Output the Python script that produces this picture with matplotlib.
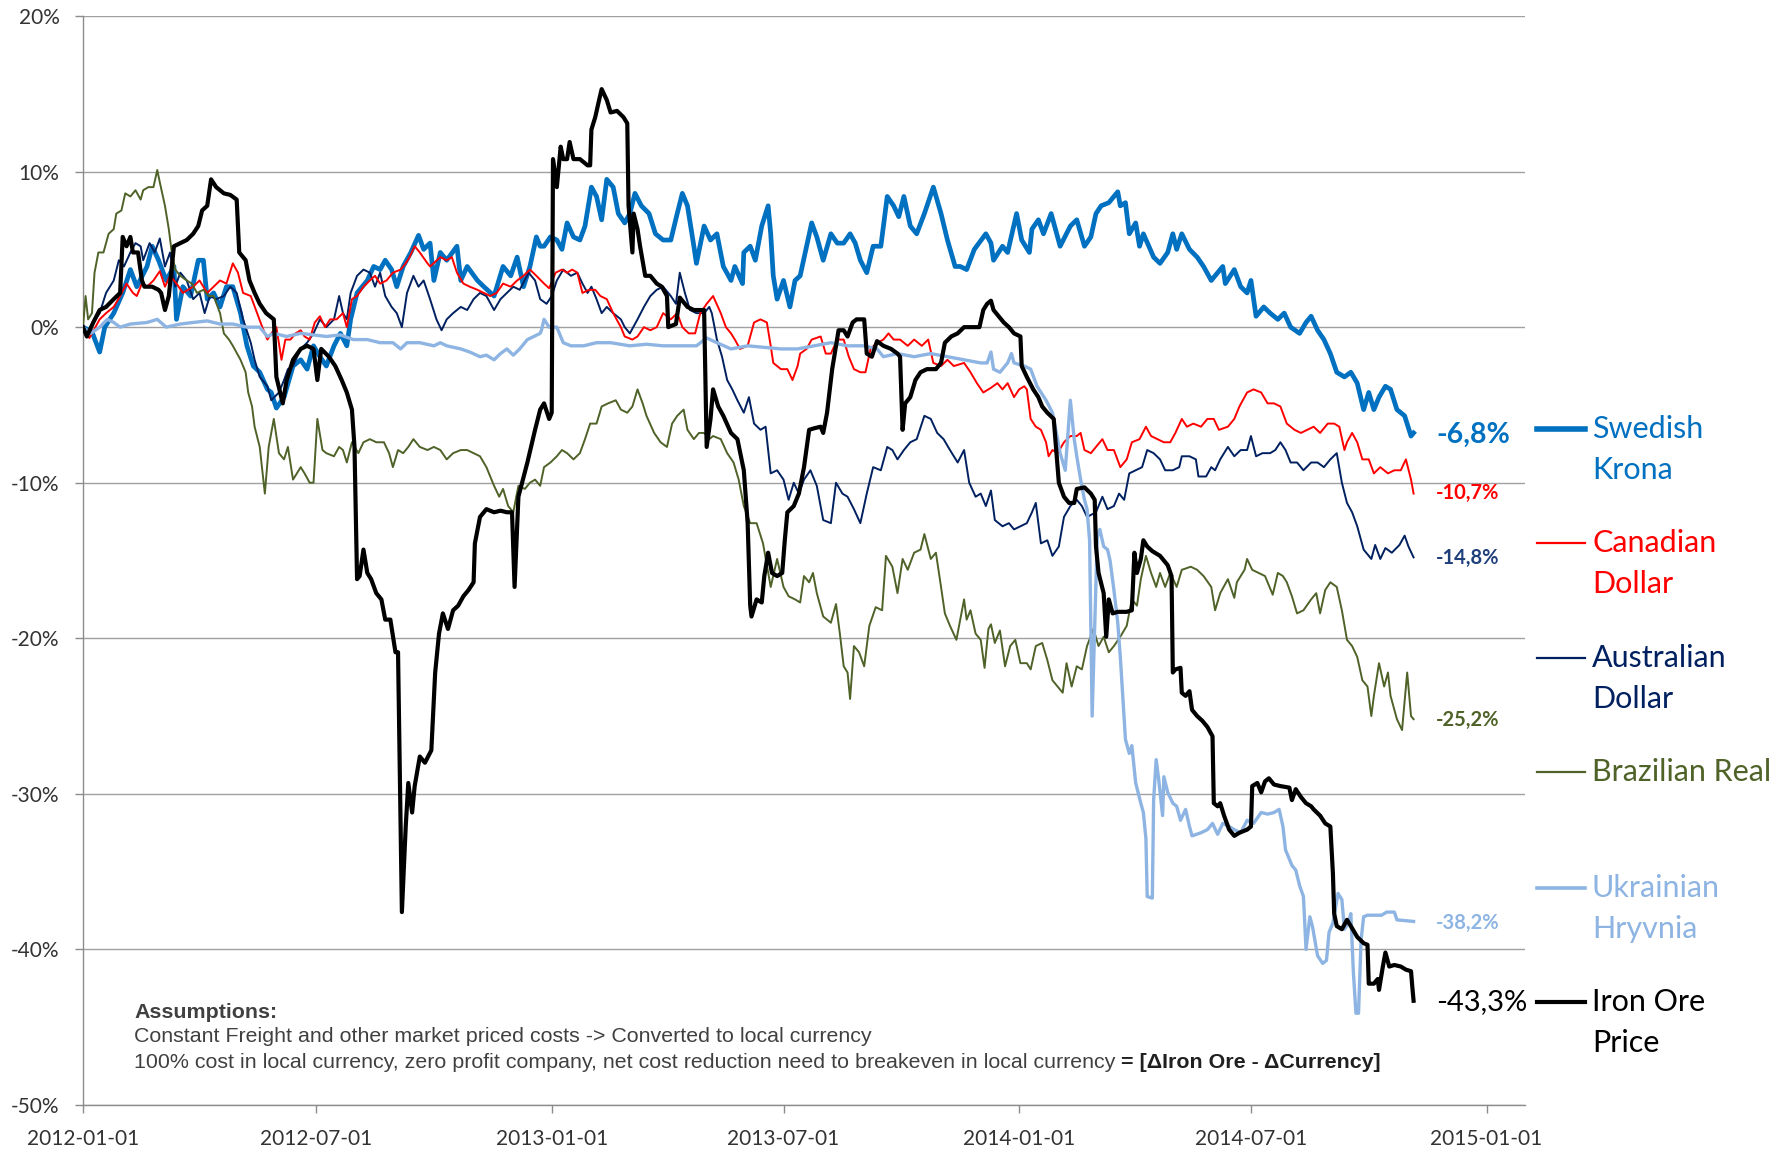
import matplotlib
matplotlib.use("Agg")
import matplotlib.pyplot as plt
import matplotlib.dates as mdates
from matplotlib.lines import Line2D
from matplotlib.ticker import FuncFormatter, MultipleLocator
import pandas as pd

plt.rcParams['font.family'] = ['Lato', 'DejaVu Sans']
plt.rcParams['axes.unicode_minus'] = False

START = pd.Timestamp("2012-01-01")

# (days since 2012-01-01, change vs start in %)
sek = [(0,0.0),(7,-0.3),(13,-1.6),(17,0.0),(24,0.9),(31,2.2),(37,3.7),(42,2.6),(50,3.9),(54,5.2),(59,4.3),(65,3.0),(71,3.9),(73,0.5),(78,2.6),(84,2.0),(90,4.3),(94,4.3),(97,1.8),(102,2.2),(107,1.3),(112,2.6),(117,2.6),(123,0.9),(128,-1.2),(133,-2.5),(138,-2.9),(144,-4.0),(147,-4.2),(151,-5.2),(157,-4.5),(164,-2.5),(170,-2.1),(175,-2.7),(180,-1.2),(185,-1.9),(190,-2.5),(196,-1.2),(201,-0.4),(206,-1.2),(209,0.5),(214,2.2),(222,3.0),(227,3.9),(232,3.7),(236,4.3),(241,3.7),(245,2.6),(250,3.9),(256,4.8),(262,5.9),(266,5.0),(271,5.4),(274,3.0),(279,4.8),(284,4.3),(292,5.2),(295,3.0),(300,3.9),(308,3.0),(313,2.6),(321,2.0),(328,3.9),(334,3.3),(339,4.5),(344,2.6),(349,3.9),(354,5.8),(357,5.2),(360,5.2),(365,5.8),(370,5.6),(374,5.0),(378,6.7),(383,5.8),(388,5.6),(392,6.5),(397,9.0),(401,8.4),(405,6.9),(409,9.5),(414,9.0),(418,7.3),(423,6.7),(427,7.3),(431,8.6),(436,7.8),(442,7.3),(447,6.0),(453,5.6),(459,5.6),(464,7.3),(468,8.6),(472,7.8),(477,5.2),(479,4.1),(485,6.5),(490,5.6),(495,6.0),(500,3.9),(506,3.0),(509,3.9),(515,2.8),(516,4.8),(521,5.2),(525,4.3),(530,6.5),(535,7.8),(537,6.0),(539,3.3),(542,1.8),(547,3.0),(552,1.3),(556,3.0),(560,3.3),(565,5.2),(569,6.7),(573,5.8),(578,4.3),(584,6.0),(589,5.4),(594,5.4),(599,6.0),(603,5.4),(607,4.3),(612,3.5),(617,5.2),(623,5.2),(628,8.4),(633,7.8),(637,7.1),(641,8.4),(646,6.5),(651,6.0),(657,7.3),(664,9.0),(670,7.3),(675,5.6),(681,3.9),(685,3.9),(690,3.7),(696,5.0),(705,6.0),(709,5.4),(711,4.3),(718,5.2),(722,4.8),(729,7.3),(733,5.6),(739,4.8),(741,6.3),(746,6.9),(750,6.0),(756,7.3),(763,5.2),(771,6.5),(776,6.9),(782,5.2),(787,5.8),(791,7.3),(795,7.8),(801,8.0),(808,8.7),(810,7.8),(814,8.0),(817,6.0),(822,6.7),(825,5.2),(828,6.0),(836,4.5),(841,4.1),(847,4.8),(851,6.0),(854,5.0),(858,6.0),(864,5.0),(870,4.5),(875,3.9),(881,3.0),(886,3.5),(890,3.9),(892,2.8),(899,3.7),(904,2.6),(909,2.2),(912,3.0),(916,0.7),(922,1.3),(927,0.9),(933,0.5),(938,0.9),(943,0.0),(950,-0.4),(955,0.3),(959,0.7),(964,-0.2),(969,-0.8),(974,-1.7),(979,-2.9),(985,-3.2),(990,-2.9),(995,-3.6),(1000,-5.3),(1004,-4.2),(1008,-5.3),(1012,-4.5),(1017,-3.8),(1021,-4.0),(1026,-5.3),(1032,-5.7),(1037,-7.0),(1039,-6.8)]

cad = [(0,0.0),(5,-0.7),(13,0.5),(18,0.9),(24,1.3),(29,2.0),(34,2.8),(39,2.2),(42,2.0),(46,2.8),(50,2.6),(55,3.0),(60,3.6),(64,2.6),(68,3.3),(73,2.8),(78,2.2),(86,2.6),(91,3.0),(97,2.2),(102,2.6),(107,3.0),(112,2.8),(117,4.1),(121,3.5),(125,2.2),(131,2.0),(136,0.9),(140,0.0),(144,-0.8),(147,-0.4),(151,0.0),(155,-2.1),(158,-0.8),(162,-0.8),(166,-0.4),(170,-0.2),(173,-0.6),(177,-0.8),(181,0.3),(185,0.7),(189,0.0),(193,0.5),(198,0.5),(203,0.9),(206,0.0),(210,1.8),(214,2.0),(219,2.6),(224,3.0),(228,3.3),(232,2.8),(237,3.0),(242,3.5),(248,3.7),(252,4.1),(255,4.5),(259,5.2),(263,4.8),(269,4.1),(271,3.9),(279,4.5),(284,4.3),(288,4.5),(292,3.5),(297,2.8),(302,2.6),(308,2.4),(313,2.2),(318,2.0),(323,2.2),(328,2.8),(334,2.6),(339,3.0),(344,3.3),(349,3.7),(354,3.3),(360,2.8),(364,2.5),(369,3.5),(374,3.7),(378,3.5),(382,3.7),(386,3.5),(390,2.2),(395,2.4),(400,2.4),(404,2.0),(409,1.8),(414,0.9),(420,0.0),(423,-0.6),(429,-0.8),(433,-0.6),(438,0.0),(443,-0.2),(448,0.0),(453,0.9),(459,0.5),(464,0.9),(468,0.0),(473,-0.4),(478,-0.4),(482,0.9),(487,1.5),(492,2.0),(498,0.9),(502,0.0),(506,-0.4),(509,-0.8),(513,-1.4),(519,-1.2),(524,0.3),(529,0.5),(534,0.3),(537,-1.2),(539,-2.3),(545,-2.7),(550,-2.7),(554,-3.4),(558,-2.5),(560,-1.7),(565,-1.4),(569,-0.8),(576,-0.6),(580,-1.7),(584,-1.7),(589,-0.8),(594,-0.8),(598,-1.9),(602,-2.7),(607,-2.9),(611,-2.9),(615,-1.4),(620,-1.0),(625,-0.8),(629,-0.4),(633,-0.8),(638,-0.8),(644,-1.2),(649,-0.8),(655,-1.2),(660,-0.8),(664,-2.3),(670,-2.5),(675,-2.1),(680,-2.5),(688,-2.3),(693,-2.9),(698,-3.6),(703,-4.2),(709,-3.9),(714,-3.6),(718,-4.0),(722,-3.6),(727,-4.5),(731,-4.0),(735,-3.8),(737,-4.0),(740,-5.9),(744,-6.4),(748,-6.6),(752,-7.4),(754,-8.3),(757,-7.9),(761,-8.1),(766,-7.4),(771,-7.0),(776,-7.0),(779,-6.8),(782,-7.9),(787,-8.1),(791,-7.7),(796,-7.2),(800,-7.9),(805,-7.9),(810,-9.0),(815,-8.5),(819,-7.4),(825,-7.2),(830,-6.4),(834,-7.0),(839,-7.2),(844,-7.4),(849,-7.4),(853,-6.8),(858,-5.9),(862,-6.4),(867,-6.2),(873,-6.4),(878,-5.9),(883,-5.9),(887,-6.6),(894,-6.4),(899,-5.9),(903,-5.1),(909,-4.2),(914,-4.0),(920,-4.2),(925,-4.9),(930,-4.9),(935,-5.1),(940,-6.2),(946,-6.6),(951,-6.8),(956,-6.6),(961,-6.4),(966,-6.8),(972,-6.2),(977,-6.2),(981,-6.4),(985,-7.9),(987,-7.4),(991,-6.8),(995,-7.4),(999,-8.5),(1004,-8.5),(1008,-9.4),(1013,-9.0),(1019,-9.4),(1024,-9.2),(1029,-9.2),(1033,-8.5),(1037,-9.8),(1039,-10.7)]

aud = [(0,0.0),(4,-0.4),(8,0.3),(13,0.9),(18,2.2),(24,3.0),(28,4.3),(32,3.9),(37,4.8),(41,5.4),(45,5.2),(47,4.3),(52,5.4),(56,4.8),(60,5.7),(64,3.9),(68,4.8),(72,2.6),(76,3.5),(81,3.0),(86,1.8),(91,2.2),(95,0.9),(99,2.0),(104,1.8),(110,2.0),(115,2.6),(120,2.2),(125,0.5),(131,-1.0),(134,-2.1),(138,-3.2),(144,-3.8),(147,-4.7),(153,-4.2),(157,-3.4),(160,-2.7),(164,-2.5),(170,-1.4),(175,-1.0),(180,-0.4),(185,0.5),(190,0.0),(196,0.5),(200,2.0),(203,0.9),(206,0.5),(209,2.2),(214,3.3),(219,3.7),(224,3.5),(228,2.6),(232,3.5),(236,2.0),(241,1.3),(245,0.9),(249,0.0),(253,2.2),(258,3.3),(262,2.6),(266,3.0),(271,1.8),(276,0.5),(280,-0.2),(284,0.5),(289,0.9),(295,1.3),(300,1.1),(305,1.8),(310,2.2),(315,2.0),(321,1.1),(326,1.8),(331,2.2),(336,2.6),(341,2.4),(348,3.5),(353,3.0),(357,1.8),(362,1.5),(366,2.0),(370,3.0),(375,3.7),(381,3.3),(386,3.5),(390,2.8),(394,2.2),(397,2.6),(401,1.8),(405,0.9),(409,1.3),(414,0.9),(420,0.5),(423,0.0),(427,-0.4),(433,0.5),(438,1.3),(443,2.0),(448,2.4),(453,2.6),(459,2.0),(463,1.5),(466,3.5),(470,2.2),(474,1.1),(479,0.9),(485,0.9),(489,1.3),(491,0.9),(495,-0.8),(499,-1.9),(503,-3.4),(507,-4.0),(511,-4.7),(516,-5.5),(520,-4.5),(524,-6.2),(529,-6.6),(533,-6.4),(537,-9.4),(542,-9.2),(547,-9.8),(551,-11.1),(555,-10.0),(559,-10.7),(563,-9.8),(568,-9.2),(573,-10.2),(578,-12.4),(584,-12.6),(588,-10.0),(593,-10.7),(597,-10.9),(602,-11.7),(607,-12.6),(612,-10.7),(617,-9.0),(623,-9.2),(628,-7.7),(632,-7.9),(636,-8.5),(641,-7.9),(646,-7.4),(651,-7.2),(657,-5.7),(662,-5.9),(667,-6.8),(672,-7.2),(677,-7.9),(683,-8.7),(688,-7.9),(692,-10.0),(697,-10.9),(701,-10.7),(705,-11.5),(709,-10.5),(712,-12.4),(718,-12.8),(723,-12.6),(727,-13.0),(732,-12.8),(737,-12.6),(741,-11.9),(744,-11.3),(748,-13.9),(753,-13.7),(757,-14.7),(762,-14.1),(766,-12.2),(771,-11.5),(776,-11.1),(780,-11.5),(784,-12.2),(791,-11.9),(796,-10.9),(800,-11.7),(805,-11.5),(809,-10.7),(813,-11.1),(817,-9.4),(822,-9.2),(827,-9.0),(831,-7.9),(836,-8.1),(841,-8.5),(845,-9.2),(851,-9.2),(856,-9.0),(858,-8.3),(864,-8.3),(869,-8.5),(871,-9.6),(877,-9.6),(881,-9.0),(884,-9.2),(888,-8.5),(894,-7.7),(899,-8.3),(904,-7.9),(909,-7.9),(912,-7.0),(916,-8.3),(921,-8.1),(927,-8.1),(931,-7.9),(935,-7.4),(939,-7.9),(943,-8.7),(948,-8.7),(953,-9.2),(959,-8.7),(964,-8.7),(969,-9.0),(974,-8.5),(979,-8.1),(983,-10.0),(987,-11.3),(991,-11.9),(995,-12.8),(1000,-14.3),(1006,-14.9),(1009,-14.0),(1013,-14.9),(1017,-14.2),(1022,-14.5),(1028,-14.0),(1032,-13.4),(1035,-14.1),(1039,-14.8)]

brl = [(0,0.0),(2,2.0),(4,0.5),(7,0.9),(9,3.5),(12,4.8),(16,4.8),(20,6.0),(24,6.3),(26,7.3),(30,7.5),(33,8.6),(37,8.4),(41,8.8),(45,8.2),(47,8.8),(51,9.0),(55,9.0),(58,10.1),(60,9.3),(64,7.8),(67,6.3),(69,5.0),(72,3.7),(76,3.3),(81,3.0),(85,2.8),(89,2.2),(94,2.4),(98,2.0),(102,2.0),(107,0.9),(110,-0.4),(114,-0.8),(117,-1.2),(123,-2.1),(127,-2.9),(129,-4.2),(132,-5.1),(134,-6.4),(138,-7.7),(142,-10.7),(145,-7.7),(149,-5.9),(153,-8.1),(157,-8.5),(160,-7.7),(164,-9.8),(170,-9.0),(173,-9.4),(177,-10.0),(180,-10.0),(183,-5.9),(187,-7.9),(190,-8.1),(196,-8.3),(200,-7.7),(203,-7.9),(206,-8.7),(210,-7.4),(215,-8.1),(219,-7.4),(224,-7.2),(229,-7.4),(235,-7.4),(239,-8.1),(242,-9.0),(246,-7.9),(250,-8.1),(254,-7.7),(258,-7.2),(263,-7.7),(269,-7.9),(274,-7.7),(279,-7.9),(284,-8.5),(289,-8.1),(295,-7.9),(300,-7.9),(305,-8.1),(310,-8.3),(315,-9.0),(321,-10.2),(325,-10.9),(328,-10.4),(332,-11.5),(336,-11.9),(340,-10.2),(345,-10.4),(349,-10.0),(353,-9.8),(357,-10.2),(360,-9.0),(365,-8.7),(370,-8.3),(374,-7.9),(378,-8.1),(383,-8.5),(388,-8.1),(392,-7.2),(396,-6.2),(401,-6.2),(405,-5.1),(410,-4.9),(416,-4.7),(420,-5.3),(425,-5.5),(429,-5.1),(433,-4.0),(437,-4.9),(440,-5.7),(446,-6.8),(451,-7.4),(456,-7.7),(460,-6.2),(464,-5.7),(469,-5.3),(472,-6.6),(477,-7.2),(481,-6.8),(485,-6.8),(489,-7.2),(492,-7.0),(498,-7.2),(503,-8.1),(508,-8.7),(512,-9.8),(516,-11.5),(521,-12.6),(526,-12.6),(531,-13.9),(537,-16.7),(542,-14.9),(547,-16.7),(551,-17.3),(556,-17.5),(560,-17.7),(563,-16.0),(567,-16.4),(570,-15.8),(573,-17.1),(578,-18.6),(584,-19.0),(588,-17.8),(591,-19.7),(594,-21.8),(597,-22.2),(599,-23.9),(602,-20.5),(606,-20.9),(610,-21.8),(614,-19.2),(619,-18.0),(624,-18.2),(627,-14.7),(632,-15.4),(636,-17.1),(640,-14.9),(644,-15.6),(649,-14.5),(654,-14.3),(657,-13.3),(662,-14.9),(666,-14.5),(670,-16.7),(673,-18.4),(677,-19.2),(682,-20.1),(688,-17.5),(690,-18.8),(693,-18.2),(697,-19.7),(701,-20.1),(704,-21.9),(707,-19.4),(709,-19.1),(712,-20.3),(716,-19.5),(720,-21.8),(724,-20.5),(728,-20.1),(732,-21.6),(737,-21.6),(740,-22.0),(744,-20.5),(749,-20.3),(753,-21.4),(757,-22.7),(761,-23.1),(765,-23.5),(768,-21.6),(772,-23.1),(776,-21.8),(780,-22.0),(784,-20.5),(789,-19.4),(793,-20.5),(797,-19.9),(801,-20.9),(805,-20.5),(810,-19.9),(815,-19.2),(819,-17.5),(823,-17.9),(826,-16.2),(830,-14.7),(834,-15.8),(838,-16.7),(841,-15.8),(845,-16.7),(849,-15.8),(854,-16.7),(858,-15.6),(865,-15.4),(870,-15.6),(875,-16.0),(881,-16.7),(884,-18.2),(888,-17.1),(894,-16.2),(899,-17.4),(901,-16.4),(907,-15.6),(909,-14.9),(913,-15.6),(918,-15.8),(923,-16.0),(929,-17.2),(933,-15.8),(937,-16.0),(940,-16.4),(944,-17.3),(948,-18.4),(953,-18.2),(959,-17.5),(963,-17.1),(966,-18.4),(970,-16.9),(974,-16.4),(979,-16.7),(983,-18.2),(987,-20.1),(991,-20.5),(995,-21.2),(999,-22.7),(1003,-23.1),(1006,-25.0),(1008,-23.7),(1012,-21.6),(1016,-23.1),(1019,-22.2),(1021,-23.7),(1026,-25.2),(1030,-25.9),(1034,-22.2),(1037,-25.0),(1039,-25.2)]

uah = [(0,0.0),(6,-0.4),(13,0.0),(19,0.5),(24,0.3),(29,0.0),(37,0.2),(50,0.3),(58,0.5),(65,0.0),(76,0.2),(86,0.3),(97,0.4),(107,0.2),(117,0.2),(128,0.0),(138,0.0),(144,-0.6),(149,-0.4),(159,-0.6),(170,-0.4),(180,-0.5),(190,-0.6),(201,-0.5),(211,-0.8),(222,-0.8),(232,-1.0),(242,-1.0),(248,-1.4),(253,-1.0),(263,-1.0),(274,-1.2),(279,-1.0),(284,-1.2),(295,-1.4),(302,-1.6),(310,-1.9),(315,-1.8),(321,-2.1),(326,-1.7),(331,-1.4),(336,-1.8),(341,-1.4),(347,-0.8),(352,-0.6),(357,-0.4),(358,-0.2),(360,0.5),(364,0.0),(370,0.0),(375,-1.0),(381,-1.2),(391,-1.2),(401,-1.0),(412,-1.0),(427,-1.2),(440,-1.1),(453,-1.2),(466,-1.2),(479,-1.2),(487,-0.7),(495,-1.0),(506,-1.4),(519,-1.2),(532,-1.3),(545,-1.4),(558,-1.4),(571,-1.2),(584,-1.0),(597,-1.2),(610,-1.2),(620,-1.4),(625,-1.9),(636,-1.7),(649,-1.9),(662,-1.7),(675,-1.9),(688,-2.1),(701,-2.3),(706,-2.3),(709,-1.6),(711,-2.7),(716,-2.9),(722,-2.3),(725,-1.7),(727,-2.3),(735,-2.5),(740,-2.7),(745,-3.8),(752,-4.7),(757,-5.5),(761,-7.2),(763,-8.1),(767,-9.2),(771,-4.7),(774,-7.2),(776,-8.3),(779,-9.8),(782,-11.1),(784,-11.7),(786,-13.7),(788,-25.0),(790,-19.2),(792,-13.5),(794,-13.0),(797,-14.1),(800,-14.3),(802,-15.0),(805,-16.9),(808,-19.0),(810,-21.2),(812,-23.9),(814,-26.5),(817,-27.4),(819,-26.9),(822,-29.3),(826,-30.6),(828,-31.2),(830,-32.9),(831,-36.6),(835,-36.7),(836,-30.4),(838,-27.8),(840,-29.1),(843,-31.4),(844,-28.9),(847,-29.9),(851,-30.6),(854,-30.8),(857,-31.7),(861,-31.0),(864,-32.1),(866,-32.7),(873,-32.5),(878,-32.3),(882,-31.9),(886,-32.6),(890,-31.9),(895,-32.1),(899,-32.3),(904,-32.5),(909,-31.7),(914,-31.9),(920,-31.2),(925,-31.3),(930,-31.2),(934,-31.0),(937,-32.1),(939,-33.6),(944,-34.6),(947,-34.9),(950,-35.9),(953,-36.6),(955,-40.0),(958,-37.9),(960,-38.5),(964,-40.4),(968,-40.9),(971,-40.7),(973,-38.9),(976,-38.3),(980,-36.4),(983,-36.8),(985,-38.7),(988,-38.3),(990,-37.7),(992,-41.5),(994,-44.1),(996,-44.1),(998,-39.4),(1000,-37.9),(1003,-37.8),(1014,-37.8),(1018,-37.6),(1024,-37.6),(1026,-38.1),(1039,-38.2)]

iron = [(0,0.0),(3,-0.6),(8,0.3),(13,1.1),(18,1.3),(24,1.8),(29,2.2),(31,5.8),(34,5.2),(37,5.8),(39,4.8),(43,4.8),(46,3.0),(48,2.6),(54,2.6),(59,2.4),(61,2.2),(64,1.1),(67,2.0),(71,5.2),(76,5.4),(81,5.6),(86,6.0),(90,6.5),(93,7.5),(97,7.8),(100,9.5),(104,9.0),(110,8.6),(115,8.5),(120,8.2),(122,4.8),(127,4.3),(130,3.0),(134,2.2),(138,1.5),(143,0.9),(149,0.5),(151,-3.2),(156,-4.9),(159,-3.4),(164,-2.1),(170,-1.4),(175,-1.2),(180,-1.4),(183,-3.4),(186,-1.4),(192,-1.9),(197,-2.5),(202,-3.4),(206,-4.2),(210,-5.3),(212,-7.7),(214,-16.2),(216,-16.0),(219,-14.3),(222,-15.8),(225,-16.2),(229,-17.1),(233,-17.5),(236,-18.8),(240,-18.8),(244,-20.9),(246,-20.9),(248,-31.9),(249,-37.6),(252,-32.1),(254,-29.3),(257,-31.2),(259,-29.5),(263,-27.6),(267,-28.0),(272,-27.2),(275,-22.2),(278,-19.7),(281,-18.4),(285,-19.4),(289,-18.2),(293,-17.9),(297,-17.3),(301,-16.9),(305,-16.4),(306,-13.9),(310,-12.2),(315,-11.7),(321,-11.9),(326,-11.8),(331,-11.9),(335,-11.9),(337,-16.7),(340,-10.9),(347,-8.7),(353,-6.6),(357,-5.3),(360,-4.9),(364,-5.9),(366,-5.5),(367,10.8),(370,9.0),(373,11.6),(375,10.8),(378,10.8),(380,11.9),(383,10.8),(388,10.8),(394,10.4),(396,10.4),(397,12.7),(400,13.5),(403,14.6),(405,15.3),(409,14.6),(412,13.8),(417,13.9),(422,13.5),(425,13.1),(426,7.8),(429,4.8),(430,7.3),(433,6.3),(435,5.2),(439,3.3),(443,3.3),(448,2.8),(452,2.6),(456,2.0),(457,0.0),(463,0.2),(466,1.9),(472,1.3),(477,1.1),(485,1.1),(487,-7.7),(490,-5.9),(492,-4.0),(496,-5.1),(500,-5.7),(506,-6.8),(511,-7.2),(516,-9.2),(519,-12.6),(521,-17.9),(522,-18.6),(526,-17.5),(530,-17.7),(532,-16.0),(535,-14.5),(538,-15.8),(542,-16.0),(546,-15.8),(548,-13.7),(550,-11.9),(555,-11.5),(559,-10.7),(563,-9.0),(567,-6.6),(571,-6.5),(576,-6.4),(578,-6.8),(581,-5.5),(585,-2.7),(588,-1.2),(590,-0.2),(594,-0.2),(597,-0.6),(601,0.3),(604,0.5),(610,0.5),(612,-1.7),(616,-1.9),(620,-0.9),(625,-1.2),(631,-1.4),(636,-1.7),(638,-1.9),(640,-6.6),(642,-4.9),(646,-4.5),(650,-3.4),(654,-2.9),(659,-2.7),(666,-2.7),(670,-2.3),(673,-1.0),(678,-0.6),(683,-0.4),(688,0.0),(693,0.0),(700,0.0),(703,1.1),(706,1.5),(709,1.7),(711,1.1),(715,0.7),(719,0.3),(723,0.0),(727,-0.4),(732,-0.6),(733,-2.5),(737,-3.2),(742,-4.0),(746,-4.5),(749,-5.1),(753,-5.5),(758,-5.9),(762,-10.0),(766,-10.9),(770,-11.3),(774,-11.3),(776,-10.4),(782,-10.3),(787,-10.7),(790,-11.1),(791,-14.1),(793,-15.8),(797,-17.1),(799,-19.9),(801,-17.5),(804,-18.4),(808,-18.3),(815,-18.3),(819,-18.2),(821,-14.5),(823,-15.8),(826,-14.9),(828,-13.7),(831,-14.1),(835,-14.4),(841,-14.7),(847,-15.3),(850,-16.0),(851,-22.2),(853,-22.0),(857,-21.9),(858,-23.5),(861,-23.7),(864,-23.4),(866,-24.6),(870,-25.0),(874,-25.3),(878,-25.7),(882,-26.3),(883,-30.6),(886,-30.8),(888,-30.6),(891,-31.4),(895,-32.3),(899,-32.7),(903,-32.5),(909,-32.3),(912,-32.1),(913,-29.5),(917,-29.3),(920,-29.9),(923,-29.2),(926,-29.0),(930,-29.4),(935,-29.5),(942,-29.6),(944,-30.4),(947,-29.7),(951,-30.2),(955,-30.6),(959,-30.8),(961,-31.0),(966,-31.4),(970,-31.9),(974,-32.1),(976,-35.1),(977,-37.7),(979,-38.5),(983,-38.7),(987,-38.1),(990,-38.5),(995,-39.2),(1000,-39.6),(1003,-39.7),(1004,-42.2),(1008,-42.2),(1011,-41.9),(1012,-42.6),(1015,-41.1),(1017,-40.2),(1020,-41.1),(1024,-41.0),(1029,-41.1),(1033,-41.3),(1037,-41.4),(1038,-42.4),(1039,-43.3)]

legend_names = [["Swedish", "Krona"], ["Canadian", "Dollar"], ["Australian", "Dollar"],
                ["Brazilian Real"], ["Ukrainian", "Hryvnia"], ["Iron Ore", "Price"]]
end_labels = ["-6,8%", "-10,7%", "-14,8%", "-25,2%", "-38,2%", "-43,3%"]

note_title = "Assumptions:"
note_line1 = "Constant Freight and other market priced costs -> Converted to local currency"
note_line2 = "100% cost in local currency, zero profit company, net cost reduction need to breakeven in local currency "
note_bold = "= [\u0394Iron Ore - \u0394Currency]"

# series in the same order as the legend
series = [sek, cad, aud, brl, uah, iron]
colors = ["#0070C0", "#FF0000", "#002060", "#4F6228", "#8DB4E2", "#000000"]
widths = [3.4, 1.4, 1.4, 1.4, 2.4, 3.0]
zorders = [2, 4, 3, 5, 6, 7]

W, H = 1777, 1149
fig = plt.figure(figsize=(W / 100, H / 100), dpi=100)
ax = fig.add_axes([83 / W, 1 - 1105 / H, (1525 - 83) / W, (1105 - 16) / H])


def fpos(x, y):
    return x / W, 1 - y / H


for pts, c, lw, z in zip(series, colors, widths, zorders):
    days, vals = zip(*pts)
    dates = START + pd.to_timedelta(list(days), unit="D")
    ax.plot(dates, vals, color=c, lw=lw, zorder=z, solid_joinstyle="round")

ax.set_ylim(-50, 20)
ax.set_xlim(START, pd.Timestamp("2015-01-31"))
ax.yaxis.set_major_locator(MultipleLocator(10))
ax.yaxis.set_major_formatter(FuncFormatter(lambda v, p: f"{v:.0f}%"))
ax.xaxis.set_major_locator(mdates.MonthLocator(bymonth=[1, 7]))
ax.xaxis.set_major_formatter(mdates.DateFormatter("%Y-%m-%d"))
ax.yaxis.grid(True, color="#A0A0A0", lw=1.0)
ax.set_axisbelow(True)
for s in ["top", "right"]:
    ax.spines[s].set_visible(False)
for s in ["left", "bottom"]:
    ax.spines[s].set_color("#8C8C8C")
    ax.spines[s].set_linewidth(1.0)
ax.tick_params(axis="both", direction="out", length=6, width=1, color="#8C8C8C",
               labelsize=15, labelcolor="#333333", pad=11)

# legend drawn by hand to the right of the plot
legend_y = [429, 543, 658, 772, 888, 1002]
legend_lw = [4.0, 1.6, 1.6, 1.6, 2.6, 3.0]
for names, c, y, lw in zip(legend_names, colors, legend_y, legend_lw):
    x0, yy = fpos(1537, y)
    x1, _ = fpos(1585, y)
    fig.add_artist(Line2D([x0, x1], [yy, yy], color=c, lw=lw))
    for i, line in enumerate(names):
        tx, ty = fpos(1592, y + i * 41)
        fig.text(tx, ty, line, color=c, fontsize=22, ha="left", va="center")

# end-of-series labels
end_y = [435, 493, 558, 720, 923, 1002]
end_colors = ["#0070C0", "#FF0000", "#1F3F7A", "#4F6228", "#8DB4E2", "#000000"]
end_sizes = [20.5, 14.5, 14.5, 14.5, 14.5, 21]
end_weights = ["bold", "bold", "bold", "bold", "bold", "normal"]
for lab, y, c, fs, fw in zip(end_labels, end_y, end_colors, end_sizes, end_weights):
    tx, ty = fpos(1436, y)
    fig.text(tx, ty, lab, color=c, fontsize=fs, fontweight=fw, ha="left", va="center")

# assumptions note
note_font = ["Liberation Sans", "DejaVu Sans"]
note_size = 15.4
nx_, ny_ = fpos(134, 1012)
fig.text(nx_, ny_, note_title, fontsize=note_size, fontweight="bold", color="#404040",
         family=note_font, va="center")
nx_, ny_ = fpos(134, 1037)
fig.text(nx_, ny_, note_line1, fontsize=note_size, color="#404040", family=note_font, va="center")
nx_, ny_ = fpos(134, 1063)
t = fig.text(nx_, ny_, note_line2, fontsize=note_size, color="#404040", family=note_font, va="center")
fig.canvas.draw()
bb = t.get_window_extent()
fig.text(bb.x1 / fig.bbox.width, ny_, note_bold, fontsize=note_size, fontweight="bold",
         color="#202020", family=note_font, va="center")

fig.savefig("out.png", dpi=100)
